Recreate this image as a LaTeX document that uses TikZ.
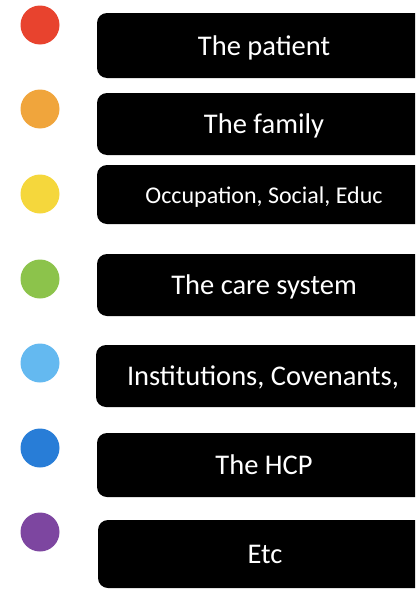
\documentclass[tikz,border=0pt]{standalone}
\usepackage{fontspec}
\setmainfont{Carlito}
\definecolor{cred}{RGB}{232,67,46}
\definecolor{corange}{RGB}{240,165,60}
\definecolor{cyellow}{RGB}{245,215,60}
\definecolor{cgreen}{RGB}{140,195,75}
\definecolor{clblue}{RGB}{100,185,240}
\definecolor{cblue}{RGB}{40,125,215}
\definecolor{cpurple}{RGB}{125,70,160}
\begin{document}
\begin{tikzpicture}[x=1pt,y=-1pt,
  bar/.style={fill=black,rounded corners=10pt,text=white,minimum width=334pt,inner sep=0pt,
    text height=25pt,text depth=6pt,font=\fontsize{28.5}{30}\selectfont},
  smallbar/.style={bar,text height=21pt,text depth=4pt,font=\fontsize{24}{26}\selectfont},
  dot/.style={circle,minimum size=39pt,inner sep=0pt}]
\useasboundingbox (0,0) rectangle (415,589);
\begin{scope}
\clip (0,0) rectangle (415,589);
\node[bar,minimum height=65pt] (b1) at (264,45.5) {The patient};
\node[bar,minimum height=62pt] (b2) at (264,124) {The family};
\node[smallbar,minimum height=59pt] (b3) at (264,194.5) {Occupation, Social, Educ};
\node[bar,minimum height=62pt] (b4) at (264,285) {The care system};
\node[bar,minimum height=62pt] (b5) at (263,376) {Institutions, Covenants,};
\node[bar,minimum height=64pt] (b6) at (264,465) {The HCP};
\node[bar,minimum height=68pt] (b7) at (265,554) {Etc};
\end{scope}
\node[dot,fill=cred] (d1) at (40,25) {};
\node[dot,fill=corange] (d2) at (40,109) {};
\node[dot,fill=cyellow] (d3) at (40,194) {};
\node[dot,fill=cgreen] (d4) at (40,279) {};
\node[dot,fill=clblue] (d5) at (40,363) {};
\node[dot,fill=cblue] (d6) at (40,448) {};
\node[dot,fill=cpurple] (d7) at (40,532) {};
\end{tikzpicture}
\end{document}
